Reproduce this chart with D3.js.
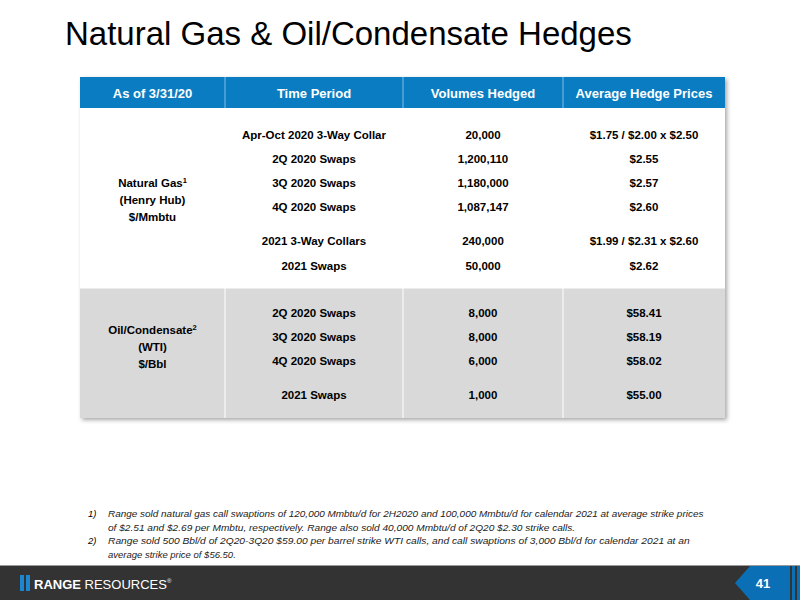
<!DOCTYPE html>
<html><head><meta charset="utf-8">
<script src="https://cdn.jsdelivr.net/npm/d3@7"></script>
<style>body{margin:0;background:#fff}svg{display:block;font-family:"Liberation Sans",Arial,sans-serif}</style>
</head><body><svg id="c" width="800" height="600"></svg>
<script>
const headers = ["As of 3/31/20","Time Period","Volumes Hedged","Average Hedge Prices"];
const gasPeriods = ["Apr-Oct 2020 3-Way Collar","2Q 2020 Swaps","3Q 2020 Swaps","4Q 2020 Swaps","2021 3-Way Collars","2021 Swaps"];
const gasVolumes = ["20,000","1,200,110","1,180,000","1,087,147","240,000","50,000"];
const gasPrices = ["$1.75 / $2.00 x $2.50","$2.55","$2.57","$2.60","$1.99 / $2.31 x $2.60","$2.62"];
const oilPeriods = ["2Q 2020 Swaps","3Q 2020 Swaps","4Q 2020 Swaps","2021 Swaps"];
const oilVolumes = ["8,000","8,000","6,000","1,000"];
const oilPrices = ["$58.41","$58.19","$58.02","$55.00"];
const gasSlots = [0,1,2,3,4.4,5.45];
const oilSlots = [7.4,8.4,9.4,10.85];
const footnotes = [
 ["1)","Range sold natural gas call swaptions of 120,000 Mmbtu/d for 2H2020 and 100,000 Mmbtu/d for calendar 2021 at average strike prices"],
 ["","of $2.51 and $2.69 per Mmbtu, respectively. Range also sold 40,000 Mmbtu/d of 2Q20 $2.30 strike calls."],
 ["2)","Range sold 500 Bbl/d of 2Q20-3Q20 $59.00 per barrel strike WTI calls, and call swaptions of 3,000 Bbl/d for calendar 2021 at an"],
 ["","average strike price of $56.50."]];

const svg = d3.select("#c");
const defs = svg.append("defs");
const f = defs.append("filter").attr("id","sh").attr("x","-5%").attr("y","-5%").attr("width","110%").attr("height","110%");
f.append("feDropShadow").attr("dx",2).attr("dy",2).attr("stdDeviation",2).attr("flood-color","#000").attr("flood-opacity",0.35);

svg.append("text").attr("x",65).attr("y",45).attr("font-size",33).attr("fill","#000").text("Natural Gas & Oil/Condensate Hedges");

const colEdges = [80,225,403,563,725];
const colX = d3.scaleOrdinal().domain(d3.range(4)).range(d3.range(4).map(i=>(colEdges[i]+colEdges[i+1])/2));
const y = d3.scaleLinear().domain([0,1]).range([135,159]);
const tTop=77, hdrB=108, gasB=288, oilB=418;

const g = svg.append("g");
g.append("rect").attr("x",colEdges[0]).attr("y",tTop).attr("width",colEdges[4]-colEdges[0]).attr("height",oilB-tTop).attr("fill","#fff").attr("filter","url(#sh)");
g.append("rect").attr("x",colEdges[0]).attr("y",tTop).attr("width",colEdges[4]-colEdges[0]).attr("height",hdrB-tTop).attr("fill","#0a7dc2");
g.append("rect").attr("x",colEdges[0]).attr("y",gasB).attr("width",colEdges[4]-colEdges[0]).attr("height",oilB-gasB).attr("fill","#d9d9d9");
colEdges.slice(1,4).forEach(x=>{
  g.append("line").attr("x1",x).attr("x2",x).attr("y1",tTop).attr("y2",hdrB).attr("stroke","#7fbde3").attr("stroke-width",1);
  g.append("line").attr("x1",x).attr("x2",x).attr("y1",hdrB).attr("y2",oilB).attr("stroke","#fff").attr("stroke-width",1);
});
g.append("line").attr("x1",colEdges[0]).attr("x2",colEdges[4]).attr("y1",gasB).attr("y2",gasB).attr("stroke","#fff");
g.selectAll(".h").data(headers).join("text").attr("x",(d,i)=>colX(i)).attr("y",98).attr("text-anchor","middle")
 .attr("fill","#fff").attr("font-size",13).attr("font-weight","bold").text(d=>d);

function rows(periods,vols,prices,slots){
  periods.forEach((p,i)=>{
    [p,vols[i],prices[i]].forEach((t,j)=>{
      g.append("text").attr("x",colX(j+1)).attr("y",y(slots[i])+4).attr("text-anchor","middle")
       .attr("font-size",11.5).attr("font-weight","bold").attr("fill","#000").text(t);
    });
  });
}
rows(gasPeriods,gasVolumes,gasPrices,gasSlots);
rows(oilPeriods,oilVolumes,oilPrices,oilSlots);

function label(lines,y0){
  lines.forEach((l,i)=>{
    const t=g.append("text").attr("x",colX(0)).attr("y",y0+i*17).attr("text-anchor","middle").attr("font-size",11.5).attr("font-weight","bold");
    t.append("tspan").text(l[0]);
    if(l[1]) t.append("tspan").attr("font-size",7.5).attr("dy",-4).text(l[1]);
  });
}
label([["Natural Gas","1"],["(Henry Hub)"],["$/Mmbtu"]],187);
label([["Oil/Condensate","2"],["(WTI)"],["$/Bbl"]],334);

footnotes.forEach((fn,i)=>{
  const yy=517+i*13.5;
  if(fn[0]) svg.append("text").attr("x",88).attr("y",yy).attr("font-size",9.5).attr("font-style","italic").text(fn[0]);
  svg.append("text").attr("x",108).attr("y",yy).attr("font-size",9.5).attr("font-style","italic").attr("fill","#222")
   .attr("textLength",fn[1].length>100?fn[1].length*4.58:null).attr("lengthAdjust","spacingAndGlyphs").text(fn[1]);
});

svg.append("rect").attr("x",0).attr("y",566).attr("width",800).attr("height",34).attr("fill","#333");
svg.append("line").attr("x1",0).attr("x2",800).attr("y1",565.5).attr("y2",565.5).attr("stroke","#999");
svg.append("path").attr("d","M750,566 L790,566 L790,600 L750,600 L735,583 Z").attr("fill","#0a6fb5");
svg.append("rect").attr("x",792).attr("y",566).attr("width",3).attr("height",34).attr("fill","#0a6fb5");
svg.append("rect").attr("x",797).attr("y",566).attr("width",3).attr("height",34).attr("fill","#0a6fb5");
svg.append("text").attr("x",763).attr("y",588).attr("text-anchor","middle").attr("fill","#fff").attr("font-size",13).attr("font-weight","bold").text("41");
svg.append("rect").attr("x",20).attr("y",575).attr("width",4).attr("height",16).attr("fill","#1c86d0");
svg.append("rect").attr("x",26).attr("y",575).attr("width",4).attr("height",16).attr("fill","#1c86d0");
const lt=svg.append("text").attr("x",34).attr("y",589).attr("fill","#fff").attr("font-size",13);
lt.append("tspan").attr("font-weight","bold").text("RANGE");
lt.append("tspan").text(" RESOURCES");
lt.append("tspan").attr("font-size",6).attr("dy",-6).text("®");
</script></body></html>
